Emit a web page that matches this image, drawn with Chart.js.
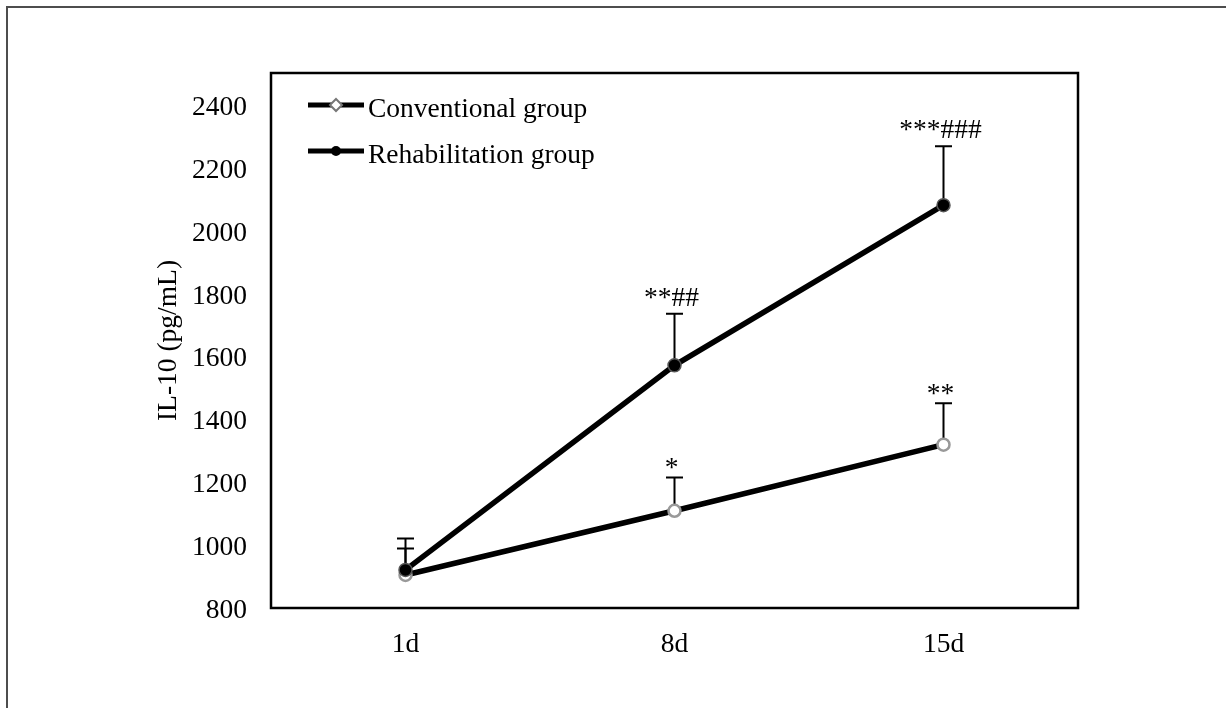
<!DOCTYPE html>
<html>
<head>
<meta charset="utf-8">
<title>IL-10</title>
<script src="https://cdn.jsdelivr.net/npm/chart.js@4.4.1/dist/chart.umd.min.js"></script>
<style>
  html, body { margin: 0; padding: 0; background: #fff; }
  canvas { display: block; }
</style>
</head>
<body>
<canvas id="chart" width="1226" height="708"></canvas>
<script>
// Time points and group names
const days = ['1d', '8d', '15d'];
const groupNames = ['Conventional group', 'Rehabilitation group'];

// IL-10 (pg/mL): mean and SD per time point
const conventionalMean = [905, 1109, 1319];
const conventionalSD = [84, 106, 132];
const rehabilitationMean = [921, 1571, 2080];
const rehabilitationSD = [100, 164, 187];

// Significance marks shown above the error bars
const conventionalMarks = ['', '*', '**'];
const rehabilitationMarks = ['', '**##', '***###'];

// Value axis
const yTickValues = [800, 1000, 1200, 1400, 1600, 1800, 2000, 2200, 2400];
const yMin = 800;
const yMax = 2500;

const FONT = "'Liberation Serif', 'Times New Roman', serif";
const FONT_SIZE = 27.5;

// Upward error bars and the significance text above each cap
const errorBarPlugin = {
  id: 'errorBars',
  beforeDatasetsDraw(chart) {
    const { ctx, scales: { x, y } } = chart;
    ctx.save();
    ctx.strokeStyle = '#000';
    ctx.lineWidth = 2;
    chart.data.datasets.forEach(ds => {
      ds.data.forEach((v, i) => {
        const px = x.getPixelForValue(i);
        const py = y.getPixelForValue(v);
        const top = y.getPixelForValue(v + ds.sd[i]);
        ctx.beginPath();
        ctx.moveTo(px, py);
        ctx.lineTo(px, top);
        ctx.moveTo(px - 8.5, top);
        ctx.lineTo(px + 8.5, top);
        ctx.stroke();
      });
    });
    ctx.restore();
  },
  afterDatasetsDraw(chart) {
    const { ctx, scales: { x, y } } = chart;
    ctx.save();
    ctx.fillStyle = '#000';
    ctx.font = `${FONT_SIZE}px ${FONT}`;
    ctx.textAlign = 'center';
    ctx.textBaseline = 'alphabetic';
    chart.data.datasets.forEach(ds => {
      ds.data.forEach((v, i) => {
        const mark = ds.marks[i];
        if (!mark) return;
        const px = x.getPixelForValue(i);
        const top = y.getPixelForValue(v + ds.sd[i]);
        const m = ctx.measureText(mark);
        // keep the visible bottom of the text a few pixels above the cap
        const baseline = top - 8 - m.actualBoundingBoxDescent;
        ctx.fillText(mark, px - 3, baseline);
      });
    });
    ctx.restore();
  }
};

// Plot box, page frame and the in-plot legend
const framePlugin = {
  id: 'frameAndLegend',
  afterDraw(chart) {
    const { ctx, chartArea: a } = chart;
    ctx.save();

    // page frame (top and left edges)
    ctx.strokeStyle = '#4d4d4d';
    ctx.lineWidth = 2;
    ctx.beginPath();
    ctx.moveTo(7, chart.height);
    ctx.lineTo(7, 7);
    ctx.lineTo(chart.width, 7);
    ctx.stroke();

    // plot box
    ctx.strokeStyle = '#000';
    ctx.lineWidth = 2.5;
    ctx.strokeRect(a.left, a.top, a.right - a.left, a.bottom - a.top);

    // legend
    const x0 = a.left + 37;
    const x1 = x0 + 56;
    const rows = [a.top + 32, a.top + 78];
    chart.data.datasets.forEach((ds, i) => {
      const yy = rows[i];
      ctx.strokeStyle = '#000';
      ctx.lineWidth = 5;
      ctx.beginPath();
      ctx.moveTo(x0, yy);
      ctx.lineTo(x1, yy);
      ctx.stroke();
      const cx = (x0 + x1) / 2;
      if (ds.legendMarker === 'diamond') {
        ctx.fillStyle = '#fff';
        ctx.strokeStyle = '#777';
        ctx.lineWidth = 2;
        ctx.beginPath();
        ctx.moveTo(cx, yy - 6);
        ctx.lineTo(cx + 6, yy);
        ctx.lineTo(cx, yy + 6);
        ctx.lineTo(cx - 6, yy);
        ctx.closePath();
        ctx.fill();
        ctx.stroke();
      } else {
        ctx.fillStyle = '#000';
        ctx.beginPath();
        ctx.arc(cx, yy, 5, 0, Math.PI * 2);
        ctx.fill();
      }
      ctx.fillStyle = '#000';
      ctx.font = `${FONT_SIZE}px ${FONT}`;
      ctx.textAlign = 'left';
      ctx.textBaseline = 'alphabetic';
      ctx.fillText(ds.label, x1 + 4, yy + 12);
    });
    ctx.restore();
  }
};

new Chart(document.getElementById('chart'), {
  type: 'line',
  data: {
    labels: days,
    datasets: [
      {
        label: groupNames[0],
        data: conventionalMean,
        sd: conventionalSD,
        marks: conventionalMarks,
        legendMarker: 'diamond',
        borderColor: '#000',
        borderWidth: 5.5,
        pointRadius: 6,
        pointBorderWidth: 2.5,
        pointBackgroundColor: '#fff',
        pointBorderColor: '#999',
        tension: 0,
        order: 1
      },
      {
        label: groupNames[1],
        data: rehabilitationMean,
        sd: rehabilitationSD,
        marks: rehabilitationMarks,
        legendMarker: 'dot',
        borderColor: '#000',
        borderWidth: 5.5,
        pointRadius: 6.5,
        pointBorderWidth: 1.5,
        pointBackgroundColor: '#000',
        pointBorderColor: '#555',
        tension: 0,
        order: 0
      }
    ]
  },
  options: {
    responsive: false,
    animation: false,
    devicePixelRatio: 1,
    layout: { padding: { left: 148, right: 148, top: 73, bottom: 0 } },
    plugins: {
      legend: { display: false },
      tooltip: { enabled: false }
    },
    scales: {
      x: {
        offset: true,
        grid: { display: false, drawTicks: false },
        border: { display: false },
        ticks: { color: '#000', padding: 20, font: { family: FONT, size: FONT_SIZE } },
        afterFit(scale) { scale.height = 100; }
      },
      y: {
        min: yMin,
        max: yMax,
        grid: { display: false, drawTicks: false },
        border: { display: false },
        ticks: {
          color: '#000',
          padding: 24,
          labelOffset: 3,
          font: { family: FONT, size: FONT_SIZE },
          callback: v => String(v)
        },
        afterBuildTicks(scale) { scale.ticks = yTickValues.map(v => ({ value: v })); },
        title: {
          display: true,
          text: 'IL-10 (pg/mL)',
          color: '#000',
          font: { family: FONT, size: FONT_SIZE },
          padding: { top: 4, bottom: 4 }
        },
        afterFit(scale) { scale.width = 123; }
      }
    }
  },
  plugins: [errorBarPlugin, framePlugin]
});
</script>
</body>
</html>
